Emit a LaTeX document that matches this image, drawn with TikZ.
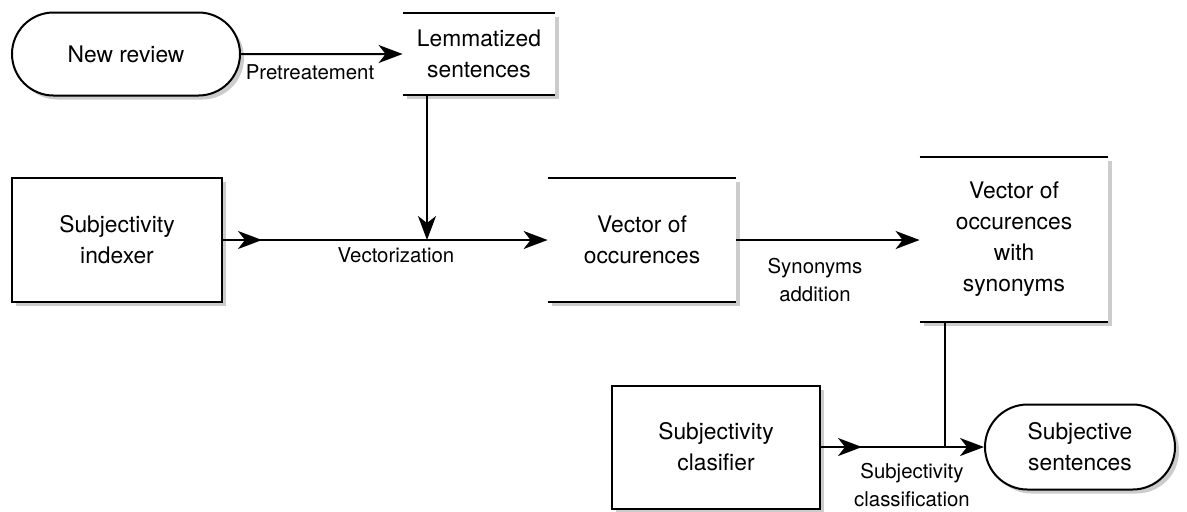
\documentclass[tikz,border=0pt]{standalone}
\usepackage{fontspec}
\setmainfont{TeX Gyre Heros}
\usetikzlibrary{arrows.meta,shapes.misc,shadows}

\begin{document}
\begin{tikzpicture}[x=0.5pt,y=-0.5pt]
    \tikzstyle{every node}+=[inner sep=0pt]
    \tikzstyle{shade}=[drop shadow={shadow xshift=2pt,shadow yshift=-2pt,opacity=0.4}]
    \tikzstyle{term}=[rounded rectangle, draw=black, line width=1pt, fill=white, shade, align=center, font=\fontsize{11.4}{15.5}\selectfont]
    \tikzstyle{proc}=[rectangle, draw=black, line width=1pt, fill=white, shade, align=center, font=\fontsize{11.4}{15.5}\selectfont]
    \tikzstyle{store}=[rectangle, fill=white, shade, align=center, font=\fontsize{11.4}{15.5}\selectfont]
    \tikzstyle{flow}=[line width=1pt, -{Stealth[length=12pt,width=9pt,inset=3.5pt]}]
    \tikzstyle{lbl}=[align=center, font=\fontsize{10.2}{14}\selectfont]
    \useasboundingbox (0,0) rectangle (1187,511);
    % nodes
    \node [term, minimum width=114pt, minimum height=41.5pt] (review) at (126,54) {New review};
    \node [store, minimum width=76pt, minimum height=41pt] (lemma) at (479,54) {Lemmatized\\sentences};
    \node [proc, minimum width=105pt, minimum height=62pt] (indexer) at (117,240) {Subjectivity\\indexer};
    \node [store, minimum width=94pt, minimum height=62pt] (vector) at (642,240) {Vector of\\occurences};
    \node [store, minimum width=94pt, minimum height=82.5pt] (synvec) at (1014,239.5) {Vector of\\occurences\\with\\synonyms};
    \node [proc, minimum width=104pt, minimum height=61.5pt] (clasifier) at (716,447) {Subjectivity\\clasifier};
    \node [term, minimum width=95pt, minimum height=42.5pt] (subj) at (1080,447) {Subjective\\sentences};
    % store borders
    \draw [line width=1pt] (lemma.north west) -- (lemma.north east);
    \draw [line width=1pt] (lemma.south west) -- (lemma.south east);
    \draw [line width=1pt] (vector.north west) -- (vector.north east);
    \draw [line width=1pt] (vector.south west) -- (vector.south east);
    \draw [line width=1pt] (synvec.north west) -- (synvec.north east);
    \draw [line width=1pt] (synvec.south west) -- (synvec.south east);
    % connectors
    \coordinate (m1) at (262,240);
    \coordinate (v1) at (427,240);
    \coordinate (m2) at (862,447);
    \coordinate (j1) at (945,447);
    \draw [flow] (review) -- (lemma);
    \draw [flow] (lemma.south -| v1) -- (v1);
    \draw [flow] (indexer.east) -- (m1);
    \draw [flow] (indexer) -- (vector);
    \draw [flow] (vector.east) -- (vector.east -| synvec.west);
    \draw [line width=1pt] (synvec.south -| j1) -- (j1);
    \draw [flow] (clasifier.east) -- (m2);
    \draw [flow] (clasifier) -- (subj);
    % labels
    \node [lbl] (pre) at (310,72) {Pretreatement};
    \node [lbl] (vec) at (396,255) {Vectorization};
    \node [lbl] (syn) at (815,280) {Synonyms\\addition};
    \node [lbl] (cls) at (912,485) {Subjectivity\\classification};
\end{tikzpicture}
\end{document}
